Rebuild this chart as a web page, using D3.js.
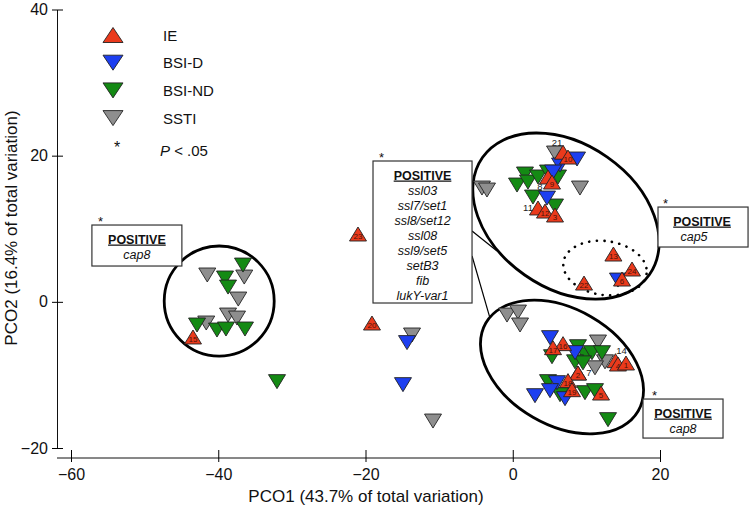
<!DOCTYPE html>
<html><head><meta charset="utf-8">
<script src="https://cdn.jsdelivr.net/npm/d3@7"></script>
<style>
html,body{margin:0;padding:0;background:#fff;}
svg{display:block;font-family:"Liberation Sans",Arial,sans-serif;}
</style></head>
<body>
<svg id="c" width="750" height="507"></svg>
<script>
// ---------------- data ----------------
const xTicks = [-60, -40, -20, 0, 20];
const yTicks = [-20, 0, 20, 40];
const groupNames = ["IE", "BSI-D", "BSI-ND", "SSTI"];
const xTitle = "PCO1 (43.7% of total variation)";
const yTitle = "PCO2 (16.4% of total variation)";

// IE isolates: [label, PCO1, PCO2]
const ie = [
  ["7", 8.86, -9.74], ["21", 6.83, 20.47], ["10", 7.50, 19.81], ["8", 4.79, 17.08],
  ["9", 5.33, 16.39], ["11", 3.43, 12.84], ["12", 4.38, 12.42], ["3", 5.74, 11.88],
  ["13", 13.67, 6.54], ["24", 16.20, 4.49], ["6", 14.84, 3.12], ["22", 9.68, 2.57],
  ["16", 6.83, -5.72], ["17", 5.47, -6.27], ["14", 13.95, -8.05], ["4", 14.29, -8.51],
  ["1", 15.38, -8.37], ["2", 8.86, -9.74], ["18", 7.50, -10.78], ["19", 8.05, -12.02],
  ["5", 11.99, -12.48], ["15", -43.43, -4.81], ["20", -19.12, -2.90], ["23", -21.02, 9.28]
];
// labels printed beside (not inside) the triangle
const outsideLabels = ["7", "21", "8", "11", "14"];

const bsiD = [
  [8.73, 19.54], [6.42, 18.72], [5.47, 17.76], [4.65, 14.20], [14.29, 2.98],
  [5.06, -4.90], [8.46, -6.95], [6.01, -11.06], [5.06, -12.15], [3.02, -12.84],
  [7.10, -13.25], [-14.36, -5.58], [-14.91, -11.33]
];
const bsiND = [
  [-36.64, 5.03], [-39.08, 3.26], [-38.67, 2.02], [-42.88, -3.17], [-40.17, -3.86],
  [-38.95, -3.72], [-36.37, -3.72], [-32.02, -10.92],
  [0.58, 15.98], [1.66, 17.49], [2.07, 16.39], [3.43, 17.08], [4.79, 17.76],
  [6.15, 17.08], [2.75, 14.34], [5.74, 13.11],
  [5.33, -7.51], [8.86, -6.14], [9.81, -7.24], [10.76, -6.96], [12.12, -6.96],
  [8.46, -8.21], [9.54, -8.35], [4.79, -10.92], [6.42, -12.70], [9.81, -12.43],
  [11.17, -12.15], [12.94, -16.12]
];
const ssti = [
  [-41.49, 3.67], [-36.47, 3.39], [-37.28, 0.38], [-38.67, -1.81], [-37.45, -2.22],
  [-41.63, -2.90], [-13.68, -4.54], [-10.83, -16.31], [5.74, 20.36], [-4.18, 15.57],
  [-3.50, 15.30], [9.13, 15.57], [-0.78, -1.81], [0.71, -1.40], [0.99, -3.17],
  [11.58, -5.50], [12.53, -8.21], [11.17, -9.03]
];

// cluster outlines: [cx, cy, semi-axis a, semi-axis b] in data units
const clusterTop = [7.23, 11.74, 13.85, 9.85];
const clusterBottom = [6.69, -8.92, 11.95, 7.94];
const clusterLeft = [-39.87, 0.11, 7.47, 7.53];
const clusterDotted = [12.53, 4.62, 5.70, 3.69];

// annotation box texts
const boxCenterGenes = ["ssl03", "ssl7/set1", "ssl8/set12", "ssl08", "ssl9/set5", "setB3", "fib", "lukY-var1"];
const boxLeftGenes = ["cap8"];
const boxTopRightGenes = ["cap5"];
const boxBottomRightGenes = ["cap8"];

// ---------------- drawing ----------------
const colors = {"IE": "#ea3a1c", "BSI-D": "#1d3ff0", "BSI-ND": "#148a14", "SSTI": "#8e8e8e"};
const svg = d3.select("#c");
const x = d3.scaleLinear().domain([-60, 20]).range([71, 660]);
const y = d3.scaleLinear().domain([-20, 40]).range([448, 9.5]);
const sx = v => x(v) - x(0);
const sy = v => y(0) - y(v);

// custom bbox-centred triangles
function triType(up, w, h) {
  return { draw(ctx) {
    const s = up ? 1 : -1;
    ctx.moveTo(0, -s * h / 2);
    ctx.lineTo(w / 2, s * h / 2);
    ctx.lineTo(-w / 2, s * h / 2);
    ctx.closePath();
  }};
}
const upPath = d3.symbol().type(triType(true, 17, 14))();
const downPath = d3.symbol().type(triType(false, 17, 14))();

// axes
const yAxis = d3.axisLeft(y).tickValues(yTicks).tickSize(6).tickSizeOuter(0).tickPadding(3);
const gy = svg.append("g").attr("transform", "translate(57,0)").call(yAxis);
gy.selectAll(".tick line").attr("x2", -5).clone().attr("x2", 6);
gy.selectAll("text").attr("font-size", 16).attr("font-family", "Liberation Sans, Arial, sans-serif").attr("fill", "#111");
gy.select(".domain").attr("stroke", "#111");

const xAxis = d3.axisBottom(x).tickValues(xTicks).tickSize(4).tickSizeOuter(0).tickPadding(7);
const gx = svg.append("g").attr("transform", "translate(0,458)").call(xAxis);
gx.selectAll(".tick line").clone().attr("y2", -8);
gx.selectAll("text").attr("font-size", 16).attr("font-family", "Liberation Sans, Arial, sans-serif").attr("fill", "#111");
gx.select(".domain").attr("stroke", "#111").attr("d", `M57,0H${x(20)}`);

svg.append("text").attr("x", 366).attr("y", 502).attr("text-anchor", "middle")
  .attr("font-size", 17).attr("fill", "#111").text(xTitle);
svg.append("text").attr("transform", "translate(17,228) rotate(-90)").attr("text-anchor", "middle")
  .attr("font-size", 17).attr("fill", "#111").text(yTitle);

// cluster outlines
function ell(c, rot, dotted) {
  const e = svg.append("ellipse")
    .attr("cx", x(c[0])).attr("cy", y(c[1]))
    .attr("rx", sx(c[2])).attr("ry", sy(c[3]))
    .attr("transform", `rotate(${rot},${x(c[0])},${y(c[1])})`)
    .attr("fill", "none").attr("stroke", "#000");
  if (dotted) e.attr("stroke-width", 2.6).attr("stroke-dasharray", "0.1 7.5").attr("stroke-linecap", "round");
  else e.attr("stroke-width", 2.8);
}
ell(clusterTop, 35, false);
ell(clusterBottom, 30, false);
ell(clusterLeft, 0, false);
ell(clusterDotted, 8, true);

// connector lines from central box to clusters
const connectors = [[[-5.53, 9.69], [-2.14, 6.95]], [[-5.53, 6.27], [-3.09, -2.22]]];
svg.selectAll("line.conn").data(connectors).join("line").attr("class", "conn")
  .attr("x1", d => x(d[0][0])).attr("y1", d => y(d[0][1]))
  .attr("x2", d => x(d[1][0])).attr("y2", d => y(d[1][1]))
  .attr("stroke", "#000").attr("stroke-width", 1.2);

// annotation boxes
function box(x0, y0, x1, y1, genes, opts) {
  const px0 = x(x0), py0 = y(y0), px1 = x(x1), py1 = y(y1);
  const g = svg.append("g");
  g.append("rect").attr("x", px0).attr("y", py0).attr("width", px1 - px0).attr("height", py1 - py0)
    .attr("fill", "#fff").attr("stroke", "#333").attr("stroke-width", 1.2);
  g.append("text").attr("x", px0 + opts.ast).attr("y", py0 + 1).attr("font-size", 13).attr("fill", "#111").text("*");
  const cx = (px0 + px1) / 2 + (opts.shift || 0);
  g.append("text").attr("x", cx).attr("y", py0 + 18.5).attr("text-anchor", "middle")
    .attr("font-size", 12.5).attr("font-weight", "bold").attr("text-decoration", "underline")
    .attr("fill", "#111").text("POSITIVE");
  genes.forEach((t, i) => {
    g.append("text").attr("x", cx + (opts.geneShift || 0)).attr("y", py0 + 34 + i * 15).attr("text-anchor", "middle")
      .attr("font-size", 12.5).attr("font-style", "italic").attr("fill", "#111").text(t);
  });
}
box(-18.98, 19.27, -5.53, -0.16, boxCenterGenes, {ast: 6});
box(-57.16, 10.51, -44.94, 4.90, boxLeftGenes, {ast: 6});
box(19.73, 12.97, 31.96, 7.50, boxTopRightGenes, {ast: 5, shift: -1, geneShift: -8});
box(17.69, -13.30, 28.56, -18.64, boxBottomRightGenes, {ast: 9});

// points: SSTI, BSI-ND, BSI-D, IE
function downPts(data, col) {
  svg.append("g").selectAll("path").data(data).join("path")
    .attr("d", downPath)
    .attr("transform", d => `translate(${x(d[0])},${y(d[1])})`)
    .attr("fill", col).attr("stroke", "#222").attr("stroke-width", 0.9);
}
downPts(ssti, colors["SSTI"]);
downPts(bsiND, colors["BSI-ND"]);
downPts(bsiD, colors["BSI-D"]);

const outsideOffset = {"7": [11, 3], "21": [-6, -6], "8": [-8, 13], "11": [-10, 3], "14": [6, -7]};
const gIE = svg.append("g");
ie.forEach(d => {
  const px = x(d[1]), py = y(d[2]);
  gIE.append("path").attr("d", upPath).attr("transform", `translate(${px},${py})`)
    .attr("fill", colors["IE"]).attr("stroke", "#222").attr("stroke-width", 0.9);
  if (!outsideLabels.includes(d[0])) {
    gIE.append("text").attr("x", px).attr("y", py + 5).attr("text-anchor", "middle")
      .attr("font-size", 8).attr("fill", "#4a1408").text(d[0]);
  }
});
ie.filter(d => outsideLabels.includes(d[0])).forEach(d => {
  const o = outsideOffset[d[0]];
  svg.append("text").attr("x", x(d[1]) + o[0]).attr("y", y(d[2]) + o[1]).attr("text-anchor", "middle")
    .attr("font-size", 9.5).attr("fill", "#222").text(d[0]);
});

// legend
const legUp = d3.symbol().type(triType(true, 20, 15))();
const legDown = d3.symbol().type(triType(false, 20, 15))();
const lg = svg.append("g");
groupNames.forEach((n, i) => {
  const ly = 35 + i * 27.7;
  lg.append("path").attr("d", n === "IE" ? legUp : legDown).attr("transform", `translate(113,${ly})`)
    .attr("fill", colors[n]).attr("stroke", "#222").attr("stroke-width", 0.9);
  lg.append("text").attr("x", 163).attr("y", ly + 5.5).attr("font-size", 15).attr("fill", "#111").text(n);
});
lg.append("text").attr("x", 117).attr("y", 153).attr("text-anchor", "middle").attr("font-size", 16).attr("fill", "#111").text("*");
const pt = lg.append("text").attr("x", 160).attr("y", 155.5).attr("font-size", 15).attr("fill", "#111");
pt.append("tspan").attr("font-style", "italic").text("P");
pt.append("tspan").text(" < .05");
</script>
</body></html>
